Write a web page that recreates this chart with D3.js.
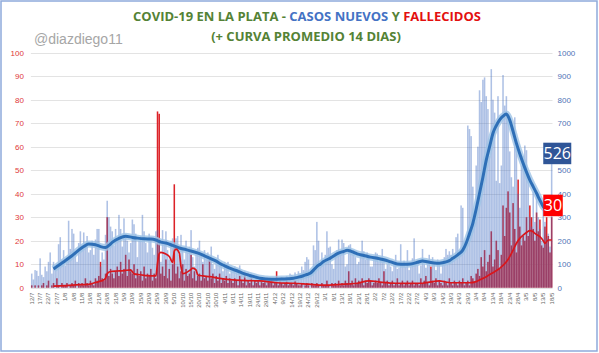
<!DOCTYPE html>
<html>
<head>
<meta charset="utf-8">
<script src="https://cdn.jsdelivr.net/npm/d3@7"></script>
<style>
  body { margin: 0; background: #fff; }
  svg { display: block; }
</style>
</head>
<body>
<div id="chart"></div>
<script>
// first day of the series, one value per day after it
const startDate = new Date(2020, 6, 12);

// casos nuevos por dia (eje derecho)
const cases = [
  60, 35, 75, 72, 50,   125, 55, 45, 90, 70,   110, 150, 60, 110, 80,
  100, 185, 215, 120, 160,   95, 130, 285, 165, 250,   230, 150, 110, 190, 240,
  180, 235, 190, 220, 150,   160, 200, 140, 205, 250,   250, 90, 150, 120, 225,
  370, 300, 260, 240, 180,   250, 200, 310, 250, 175,   295, 220, 200, 150, 190,
  290, 270, 230, 130, 200,   220, 310, 240, 190, 150,   230, 210, 170, 140, 240,
  245, 200, 110, 245, 200,   240, 160, 120, 200, 210,   100, 210, 220, 140, 225,
  160, 120, 200, 150, 175,   245, 130, 90, 150, 170,   200, 140, 110, 160, 120,
  150, 130, 175, 100, 80,   120, 140, 95, 110, 70,   110, 100, 110, 60, 85,
  80, 90, 70, 60, 95,   60, 55, 70, 40, 65,   50, 60, 45, 35, 55,
  50, 40, 45, 30, 45,   40, 35, 45, 30, 40,   35, 40, 30, 25, 45,
  40, 35, 50, 30, 60,   55, 40, 65, 50, 70,   60, 90, 75, 110, 130,
  120, 60, 70, 180, 160,   280, 200, 90, 150, 120,   140, 240, 170, 175, 100,
  80, 140, 160, 205, 150,   205, 190, 90, 100, 180,   185, 150, 160, 130, 100,
  110, 140, 200, 155, 120,   150, 135, 90, 90, 120,   150, 145, 110, 125, 165,
  120, 80, 100, 110, 90,   70, 110, 140, 80, 85,   185, 100, 115, 90, 160,
  75, 90, 125, 210, 110,   100, 60, 95, 165, 100,   85, 110, 140, 80, 130,
  100, 75, 120, 110, 60,   100, 130, 165, 140, 155,   140, 165, 120, 215, 230,
  160, 350, 340, 200, 185,   690, 675, 645, 430, 280,   520, 600, 840, 790, 885,
  895, 815, 760, 560, 930,   800, 745, 455, 815, 445,   520, 905, 775, 815, 730,
  580, 470, 430, 725, 630,   400, 340, 520, 560, 605,   585, 470, 300, 260, 410,
  280, 405, 300, 250, 200,   370, 280, 210, 230, 175,   526
];

// fallecidos por dia (eje izquierdo)
const deaths = [
  1, 0, 1, 0, 1,   0, 1, 2, 0, 1,   3, 0, 1, 2, 0,
  4, 1, 0, 2, 1,   1, 2, 0, 1, 2,   1, 3, 0, 2, 1,
  2, 1, 4, 2, 1,   3, 2, 1, 4, 3,   5, 11, 4, 3, 6,
  30, 5, 8, 6, 4,   7, 9, 5, 11, 6,   8, 14, 5, 12, 7,
  6, 10, 4, 8, 5,   7, 3, 9, 4, 6,   5, 8, 3, 6, 4,
  75, 74, 6, 9, 5,   12, 4, 8, 3, 10,   44, 6, 9, 4, 7,
  10, 3, 8, 5, 6,   14, 4, 7, 3, 5,   6, 3, 10, 4, 5,
  3, 12, 4, 6, 2,   5, 3, 6, 2, 4,   3, 5, 2, 4, 3,
  2, 4, 3, 1, 5,   3, 2, 6, 1, 3,   2, 4, 1, 3, 2,
  3, 1, 4, 2, 3,   1, 3, 2, 4, 1,   2, 7, 1, 3, 2,
  1, 2, 3, 1, 2,   2, 1, 3, 2, 1,   1, 2, 0, 1, 2,
  1, 0, 2, 1, 1,   2, 1, 0, 2, 1,   1, 3, 1, 0, 2,
  1, 2, 1, 3, 1,   2, 1, 3, 2, 7,   2, 3, 1, 4, 2,
  3, 2, 4, 1, 3,   2, 4, 3, 1, 2,   3, 2, 4, 2, 1,
  7, 2, 3, 1, 2,   3, 1, 2, 4, 1,   2, 3, 1, 2, 3,
  1, 2, 3, 1, 2,   2, 1, 4, 2, 3,   5, 2, 1, 9, 3,
  2, 4, 1, 3, 2,   1, 3, 2, 1, 4,   2, 1, 3, 2, 1,
  3, 2, 4, 1, 2,   3, 1, 5, 4, 2,   6, 8, 5, 13, 9,
  16, 7, 11, 14, 24,   9, 12, 20, 16, 8,   14, 35, 22, 34, 41,
  32, 18, 36, 25, 15,   46, 26, 18, 22, 20,   30, 22, 35, 30, 25,
  20, 32, 24, 29, 18,   17, 26, 30, 22, 15,   30
];

// curva promedio 14 dias (dia, valor)
const avgCasesDay = [13, 17, 20, 24, 28, 31, 34, 38, 41, 44, 46, 48, 52, 56, 60, 63, 67, 71, 74, 77,
  80, 84, 88, 92, 96, 100, 103, 106, 110, 113, 116, 120, 123, 126, 130, 133, 136, 140, 143, 146,
  150, 153, 156, 159, 162, 164, 166, 168, 170, 172, 174, 176, 178, 180, 182, 184, 186, 188, 190, 192,
  194, 198, 202, 206, 210, 214, 218, 222, 226, 230, 233, 236, 240, 243, 246, 249, 251, 254, 257, 259,
  261, 263, 265, 267, 269, 271, 273, 275, 277, 279, 281, 283, 284, 285, 287, 289, 291, 293, 295, 297,
  299, 301, 303, 305, 307, 309, 310];
const avgCasesVal = [80, 100, 115, 136, 160, 175, 186, 183, 175, 171, 180, 193, 210, 219, 214, 211, 208, 207, 203, 194,
  190, 180, 169, 162, 154, 145, 135, 126, 113, 100, 90, 78, 70, 61, 52, 46, 40, 37, 36, 36,
  37, 38, 40, 45, 51, 56, 61, 75, 90, 100, 111, 119, 126, 135, 144, 150, 154, 159, 156, 150,
  144, 137, 130, 125, 119, 110, 101, 100, 101, 108, 114, 110, 105, 104, 108, 115, 125, 140, 160, 189,
  230, 274, 335, 402, 470, 543, 600, 657, 690, 714, 730, 739, 730, 714, 665, 614, 570, 529, 492, 458,
  430, 402, 372, 345, 332, 323, 320];

const avgDeathsDay = [13, 20, 24, 30, 34, 37, 40, 43, 44, 45, 47, 51, 55, 59, 60, 61, 65, 69, 74, 75,
  76, 77, 80, 82, 84, 85, 86, 88, 89, 90, 92, 95, 96, 98, 99, 102, 106, 112, 120, 128,
  136, 146, 156, 165, 174, 184, 194, 201, 209, 217, 225, 233, 238, 243, 247, 251, 261, 265, 267, 271,
  275, 279, 283, 285, 287, 289, 291, 293, 295, 297, 299, 300, 303, 305, 306, 308, 310];
const avgDeathsVal = [0.7, 0.9, 1.1, 1.3, 1.4, 2.0, 2.6, 3.4, 4.0, 6.0, 6.9, 7.1, 7.3, 7.6, 6.8, 5.9, 5.5, 5.1, 5.0, 10.4,
  14.5, 15.0, 14.3, 13.3, 10.8, 15.5, 16.4, 14.7, 9.0, 6.0, 6.4, 7.8, 8.3, 7.5, 5.4, 5.0, 4.7, 4.0, 3.3, 3.0,
  2.9, 2.1, 1.9, 1.5, 1.1, 1.4, 1.9, 2.9, 2.3, 1.9, 1.8, 1.9, 2.5, 2.9, 2.4, 2.1, 2.1, 2.6, 3.3, 4.7,
  6.4, 8.2, 11.0, 13.2, 16.0, 18.9, 21.0, 22.4, 23.5, 24.3, 23.8, 23.1, 21.7, 20.0, 18.9, 20.3, 20.3];

const deathTicks = [0, 10, 20, 30, 40, 50, 60, 70, 80, 90, 100];
const caseTicks = [0, 100, 200, 300, 400, 500, 600, 700, 800, 900, 1000];

const W = 599, H = 353;
const plot = { left: 30.9, right: 552.5, top: 52.7, bottom: 287.7 };

const svg = d3.select("#chart").append("svg")
    .attr("width", W)
    .attr("height", H)
    .style("font-family", "'Liberation Sans', Arial, sans-serif");

// marco
svg.append("rect")
    .attr("x", 1).attr("y", 1)
    .attr("width", W - 3).attr("height", H - 3)
    .attr("fill", "#fff")
    .attr("stroke", "#8eaadb")
    .attr("stroke-width", 1.5);

const days = cases.map((d, i) => i);
const dates = days.map(i => d3.timeDay.offset(startDate, i));
const fmt = d3.timeFormat("%-d/%-m");

const x = d3.scaleBand().domain(days).range([plot.left, plot.right]).paddingInner(0.08).paddingOuter(0.04);
const xc = i => x(i) + x.bandwidth() / 2;
const yD = d3.scaleLinear().domain([0, 100]).range([plot.bottom, plot.top]);
const yC = d3.scaleLinear().domain([0, 1000]).range([plot.bottom, plot.top]);

// grilla
svg.append("g").selectAll("line")
    .data(deathTicks)
    .join("line")
    .attr("x1", plot.left).attr("x2", plot.right)
    .attr("y1", d => Math.round(yD(d)) + 0.5).attr("y2", d => Math.round(yD(d)) + 0.5)
    .attr("stroke", "#e3e3e3");

// eje izquierdo (fallecidos)
const leftAxis = svg.append("g")
    .attr("transform", `translate(${plot.left - 7},0)`)
    .call(d3.axisLeft(yD).tickValues(deathTicks).tickSize(0).tickPadding(0));
leftAxis.select(".domain").remove();
leftAxis.selectAll("text").attr("fill", "#e0383a").style("font-size", "8px");

// eje derecho (casos)
const rightAxis = svg.append("g")
    .attr("transform", `translate(${plot.right + 5},0)`)
    .call(d3.axisRight(yC).tickValues(caseTicks).tickFormat(d3.format("d")).tickSize(0).tickPadding(0));
rightAxis.select(".domain").remove();
rightAxis.selectAll("text").attr("fill", "#4f73b6").style("font-size", "8px");

// fechas
const xAxis = svg.append("g")
    .attr("transform", `translate(0,${plot.bottom + 3})`)
    .call(d3.axisBottom(x).tickValues(days.filter(i => i % 5 === 0)).tickFormat(i => fmt(dates[i])).tickSize(0).tickPadding(0));
xAxis.select(".domain").remove();
xAxis.selectAll("text")
    .attr("transform", "rotate(-90)")
    .attr("text-anchor", "end")
    .attr("dy", "0.32em")
    .attr("x", -2)
    .attr("y", 0)
    .attr("fill", "#666")
    .style("font-size", "6px");

// barras de fallecidos
svg.append("g").selectAll("rect")
    .data(deaths)
    .join("rect")
    .attr("x", (d, i) => x(i))
    .attr("width", x.bandwidth())
    .attr("y", d => yD(d))
    .attr("height", d => yD(0) - yD(d))
    .attr("fill", "#dc2228");

// barras de casos (semitransparentes, encima)
svg.append("g").selectAll("rect")
    .data(cases)
    .join("rect")
    .attr("x", (d, i) => x(i))
    .attr("width", x.bandwidth())
    .attr("y", d => yC(d))
    .attr("height", d => yC(0) - yC(d))
    .attr("fill", "#3f6cc0")
    .attr("fill-opacity", 0.42);

// curvas promedio
const caseLine = d3.line()
    .x((d, i) => xc(d))
    .y((d, i) => yC(avgCasesVal[i]))
    .curve(d3.curveMonotoneX);
svg.append("path")
    .attr("d", caseLine(avgCasesDay))
    .attr("fill", "none")
    .attr("stroke", "#9dc3e6")
    .attr("stroke-opacity", 0.8)
    .attr("stroke-width", 7)
    .attr("stroke-linejoin", "round");
svg.append("path")
    .attr("d", caseLine(avgCasesDay))
    .attr("fill", "none")
    .attr("stroke", "#2e6fb7")
    .attr("stroke-width", 3)
    .attr("stroke-linejoin", "round");

const deathLine = d3.line()
    .x((d, i) => xc(d))
    .y((d, i) => yD(avgDeathsVal[i]))
    .curve(d3.curveMonotoneX);
svg.append("path")
    .attr("d", deathLine(avgDeathsDay))
    .attr("fill", "none")
    .attr("stroke", "#d9161c")
    .attr("stroke-width", 1.7);

// etiquetas del ultimo dato
const last = cases.length - 1;
function tag(value, yPos, fill, w) {
    const g = svg.append("g").attr("transform", `translate(${xc(last) - 8.4},${yPos})`);
    g.append("rect").attr("width", w).attr("height", 21.5).attr("fill", fill);
    g.append("text")
        .attr("x", w / 2).attr("y", 16.5)
        .attr("text-anchor", "middle")
        .attr("fill", "#fff")
        .style("font-size", "16px")
        .style("font-family", "'Open Sans', sans-serif")
        .text(value);
}
tag(cases[last], yC(cases[last]) - 21.4, "#2f5597", 28);
tag(deaths[last], yD(deaths[last]) - 22.5, "#ff0000", 19.5);

// titulo
const title = svg.append("text")
    .attr("x", 307).attr("y", 21)
    .attr("text-anchor", "middle")
    .style("font-family", "'Open Sans', sans-serif")
    .style("font-weight", 700)
    .style("font-size", "13px");
[["COVID-19 EN LA PLATA - ", "#548235"], ["CASOS NUEVOS", "#4472c4"], [" Y ", "#548235"], ["FALLECIDOS", "#e31010"]]
    .forEach(([t, c]) => title.append("tspan").attr("fill", c).text(t));
svg.append("text")
    .attr("x", 306).attr("y", 41)
    .attr("text-anchor", "middle")
    .attr("fill", "#548235")
    .style("font-family", "'Open Sans', sans-serif")
    .style("font-weight", 700)
    .style("font-size", "13px")
    .text("(+ CURVA PROMEDIO 14 DIAS)");

svg.append("text")
    .attr("x", 34).attr("y", 44)
    .attr("fill", "#a6a6a6")
    .style("font-size", "14px")
    .text("@diazdiego11");
</script>
</body>
</html>
